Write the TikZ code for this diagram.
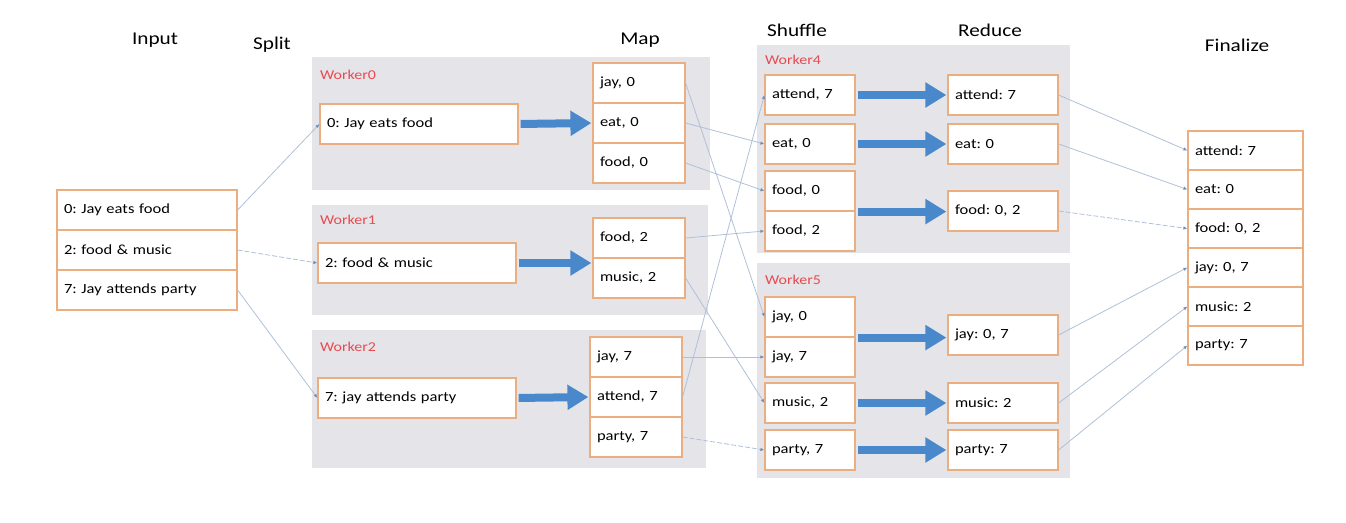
\documentclass[tikz,border=0pt]{standalone}
\usepackage{fontspec}
\setmainfont{Carlito}[FakeStretch=1.18]
\frenchspacing
\usetikzlibrary{arrows.meta,calc}
\definecolor{bgc}{HTML}{E4E4E9}
\definecolor{boxc}{HTML}{EBAE80}
\definecolor{redc}{HTML}{E84A50}
\definecolor{bluec}{HTML}{4A88CC}
\definecolor{linec}{HTML}{AFC0D8}
\definecolor{tipc}{HTML}{6F8FC0}
\begin{document}
\begin{tikzpicture}[x=1pt,y=-1pt,
  worker/.style={fill=bgc, draw=none},
  cell/.style={draw=boxc, fill=white, line width=1.2pt, minimum height=40pt,
    inner xsep=7pt, inner ysep=0pt, align=left, font=\fontsize{14}{16}\selectfont},
  inbox/.style={cell, text width=166pt},
  splitbox/.style={cell, text width=184pt},
  mapbox/.style={cell, text width=78pt},
  shufbox/.style={cell, text width=76pt},
  redbox/.style={cell, text width=96pt},
  finbox/.style={cell, text width=101pt, minimum height=39pt},
  title/.style={font=\fontsize{18}{21}\selectfont, inner sep=0pt},
  wlabel/.style={text=redc, font=\fontsize{13.5}{15}\selectfont, anchor=west, inner sep=0pt},
  conn/.style={draw=linec, line width=0.8pt, -{Latex[length=4pt,width=3.5pt,color=tipc]}},
  dconn/.style={conn, dash pattern=on 5pt off 2pt},
  big/.style={draw=bluec, line width=8pt, shorten <=2pt, shorten >=1pt,
    -{Triangle[length=21pt,width=24pt]}}
]
\useasboundingbox (0,0) rectangle (1346,522);

% worker backgrounds
\fill[worker] (312,57) rectangle (710,190);
\fill[worker] (312,205) rectangle (708,315);
\fill[worker] (312,330) rectangle (706,468);
\fill[worker] (757,45) rectangle (1070,253);
\fill[worker] (757,263) rectangle (1070,478);

% titles
\node[title] (tin) at (155,40) {Input};
\node[title] (tsp) at (272,45) {Split};
\node[title] (tmap) at (640,40) {Map};
\node[title] (tsh) at (797,30) {Shuffle};
\node[title] (tred) at (990,30) {Reduce};
\node[title] (tfin) at (1237,45) {Finalize};

% worker labels
\node[wlabel] (w0) at (320,75) {Worker0};
\node[wlabel] (w1) at (320,220) {Worker1};
\node[wlabel] (w2) at (320,347) {Worker2};
\node[wlabel] (w4) at (765,60) {Worker4};
\node[wlabel] (w5) at (765,280) {Worker5};

% input
\node[inbox] (i0) at (147,210) {0: Jay eats food};
\node[inbox] (i1) at (147,250) {2: food \& music};
\node[inbox] (i2) at (147,290) {7: Jay attends party};

% split
\node[splitbox] (s0) at (419,124) {0: Jay eats food};
\node[splitbox] (s1) at (417,263) {2: food \& music};
\node[splitbox] (s2) at (417,398) {7: jay attends party};

% map
\node[mapbox] (m00) at (639,83) {jay, 0};
\node[mapbox] (m01) at (639,123) {eat, 0};
\node[mapbox] (m02) at (639,163) {food, 0};
\node[mapbox] (m10) at (639,238) {food, 2};
\node[mapbox] (m11) at (639,278) {music, 2};
\node[mapbox] (m20) at (636,357) {jay, 7};
\node[mapbox] (m21) at (636,397) {attend, 7};
\node[mapbox] (m22) at (636,437) {party, 7};

% shuffle
\node[shufbox] (h40) at (810,95) {attend, 7};
\node[shufbox] (h41) at (810,144) {eat, 0};
\node[shufbox] (h42) at (810,191) {food, 0};
\node[shufbox] (h43) at (810,231) {food, 2};
\node[shufbox] (h50) at (810,317) {jay, 0};
\node[shufbox] (h51) at (810,357) {jay, 7};
\node[shufbox] (h52) at (810,403) {music, 2};
\node[shufbox] (h53) at (810,450) {party, 7};

% reduce
\node[redbox] (r40) at (1003,95) {attend: 7};
\node[redbox] (r41) at (1003,144) {eat: 0};
\node[redbox] (r42) at (1003,211) {food: 0, 2};
\node[redbox] (r50) at (1003,335) {jay: 0, 7};
\node[redbox] (r51) at (1003,403) {music: 2};
\node[redbox] (r52) at (1003,450) {party: 7};

% finalize
\node[finbox] (f0) at (1245.5,150.5) {attend: 7};
\node[finbox] (f1) at (1245.5,189.5) {eat: 0};
\node[finbox] (f2) at (1245.5,228.5) {food: 0, 2};
\node[finbox] (f3) at (1245.5,267.5) {jay: 0, 7};
\node[finbox] (f4) at (1245.5,306.5) {music: 2};
\node[finbox] (f5) at (1245.5,345.5) {party: 7};

% input -> split
\draw[conn] (i0.east) -- (s0.west);
\draw[dconn] (i1.east) -- (s1.west);
\draw[conn] (i2.east) -- (s2.west);

% map -> shuffle
\draw[conn] (m00.east) -- (h50.west);
\draw[conn] (m01.east) -- (h41.west);
\draw[conn] (m02.east) -- (h42.west);
\draw[conn] (m10.east) -- (h43.west);
\draw[conn] (m11.east) -- (h52.west);
\draw[conn] (m20.east) -- (h51.west);
\draw[conn] (m21.east) -- (h40.west);
\draw[dconn] (m22.east) -- (h53.west);

% reduce -> finalize
\draw[conn] (r40.east) -- (f0.west);
\draw[conn] (r41.east) -- (f1.west);
\draw[dconn] (r42.east) -- (f2.west);
\draw[conn] (r50.east) -- (f3.west);
\draw[conn] (r51.east) -- (f4.west);
\draw[conn] (r52.east) -- (f5.west);

% thick arrows
\draw[big] (s0.east) -- (m01.west);
\draw[big] (s1.east) -- (s1.east -| m10.west);
\draw[big] (s2.east) -- (m21.west);
\draw[big] (h40.east) -- (r40.west);
\draw[big] (h41.east) -- (r41.west);
\draw[big] (h42.south east) -- (h42.south east -| r42.west);
\draw[big] (h50.south east) -- (h50.south east -| r50.west);
\draw[big] (h52.east) -- (r51.west);
\draw[big] (h53.east) -- (r52.west);
\end{tikzpicture}
\end{document}
